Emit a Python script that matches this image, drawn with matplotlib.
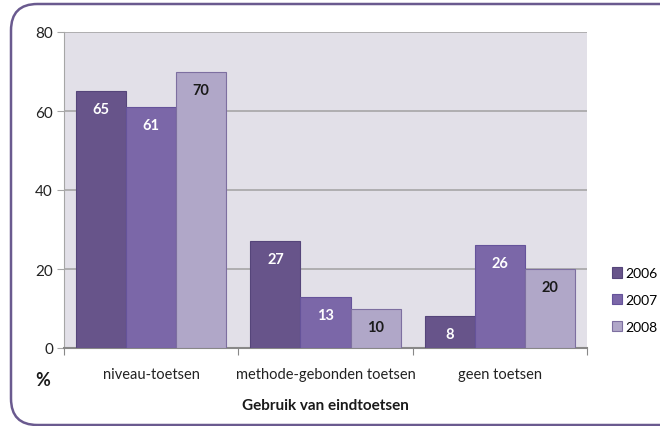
import matplotlib
matplotlib.use("Agg")
import matplotlib.pyplot as plt
import numpy as np
from matplotlib.patches import FancyBboxPatch

categories = ["niveau-toetsen", "methode-gebonden toetsen", "geen toetsen"]
years = ["2006", "2007", "2008"]
values_2006 = [65, 27, 8]
values_2007 = [61, 13, 26]
values_2008 = [70, 10, 20]
series = [values_2006, values_2007, values_2008]
colors = ["#67548a", "#7b67a8", "#b0a7c8"]
label_colors = ["white", "white", "#1a1a1a"]
edge_colors = ["#55457a", "#65539a", "#7d6fa0"]

plt.rcParams['font.family'] = ['Lato', 'DejaVu Sans']

fig = plt.figure(figsize=(6.6, 4.27), dpi=100)
W, H = 660, 427

# rounded frame
frame = FancyBboxPatch((11 / W, 1 / H), 700 / W, 421 / H,
                       boxstyle="round,pad=0,rounding_size=0.04",
                       transform=fig.transFigure, facecolor="none",
                       edgecolor="#6a5a8f", linewidth=1.8, zorder=-1,
                       mutation_aspect=W / H)
fig.patches.append(frame)

ax = fig.add_axes([64 / W, 1 - 349 / H, (587 - 64) / W, (349 - 33) / H])
ax.set_facecolor("#e2e0e8")

x = np.arange(len(categories))
bw = 0.287
for i, (vals, c) in enumerate(zip(series, colors)):
    pos = x + (i - 1) * bw
    bars = ax.bar(pos, vals, width=bw, color=c, edgecolor=edge_colors[i],
                  linewidth=0.8, label=years[i], zorder=3)
    for b, v in zip(bars, vals):
        ax.annotate(str(v), (b.get_x() + b.get_width() / 2, v),
                    xytext=(0, -13), textcoords="offset points",
                    ha="center", va="center", fontsize=10.5, fontweight="bold",
                    color=label_colors[i], zorder=4)

ax.set_xlim(-0.5, 2.5)
ax.set_ylim(0, 80)
ax.set_yticks([0, 20, 40, 60, 80])
ax.yaxis.grid(True, color="#a6a6a6", linewidth=1.2, zorder=1)
ax.set_axisbelow(True)
ax.tick_params(axis="y", length=5, color="#a6a6a6", labelsize=11,
               labelcolor="#222222", pad=3)

ax.set_xticks([-0.5, 0.5, 1.5, 2.5])
ax.set_xticklabels([])
ax.set_xticks(x, minor=True)
ax.set_xticklabels(categories, minor=True)
ax.tick_params(axis="x", which="major", length=5, color="#888888", direction="out")
ax.tick_params(axis="x", which="minor", length=0, labelsize=10.5,
               labelcolor="#222222", pad=14)

for s in ["top", "right"]:
    ax.spines[s].set_visible(False)
ax.spines["left"].set_color("#a6a6a6")
ax.spines["bottom"].set_color("#888888")
ax.spines["bottom"].set_linewidth(1.5)

ax.set_xlabel("Gebruik van eindtoetsen", fontsize=11, fontweight="bold",
              color="#1a1a1a", labelpad=12)
fig.text(43 / W, 1 - 381 / H, "%", fontsize=13, fontweight="bold",
         ha="center", va="center", color="#1a1a1a")

leg = ax.legend(loc="center left", bbox_to_anchor=(1.047, 0.152), frameon=False,
                fontsize=10, handlelength=0.75, handleheight=0.75,
                handletextpad=0.25, labelspacing=1.05, borderaxespad=0,
                borderpad=0)

fig.savefig("out.png", dpi=100)
